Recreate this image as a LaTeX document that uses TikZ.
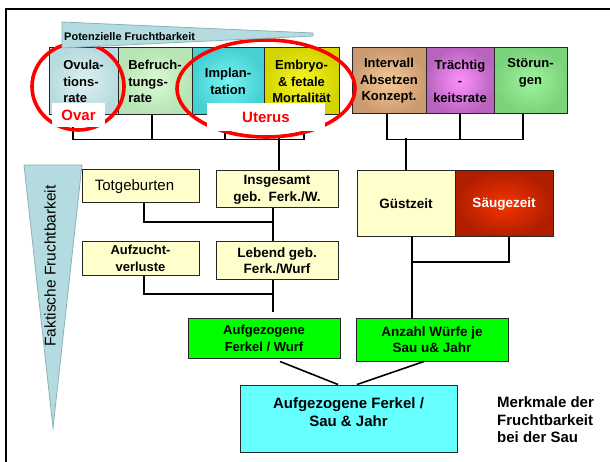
\documentclass[tikz,border=0pt]{standalone}
\usepackage{fontspec}
\setmainfont{Liberation Sans}
\definecolor{wedgeblue}{RGB}{180,220,224}
\definecolor{wedgeedge}{RGB}{140,178,184}
\definecolor{paleyellow}{RGB}{255,255,204}
\definecolor{brightgreen}{RGB}{0,255,0}
\definecolor{lightcyan}{RGB}{102,255,255}
\definecolor{ovuin}{RGB}{222,240,242}\definecolor{ovuout}{RGB}{184,219,224}
\definecolor{befin}{RGB}{218,250,212}\definecolor{befout}{RGB}{182,228,180}
\definecolor{impin}{RGB}{120,244,244}\definecolor{impout}{RGB}{70,208,210}
\definecolor{embin}{RGB}{246,246,40}\definecolor{embout}{RGB}{212,212,0}
\definecolor{intin}{RGB}{246,202,152}\definecolor{intout}{RGB}{204,154,112}
\definecolor{train}{RGB}{255,144,255}\definecolor{traout}{RGB}{184,100,190}
\definecolor{stoin}{RGB}{158,244,158}\definecolor{stoout}{RGB}{122,210,122}
\definecolor{sauin}{RGB}{246,52,0}\definecolor{sauout}{RGB}{176,30,0}
\begin{document}
\begin{tikzpicture}[x=1pt,y=-1pt,
  box/.style={draw=black!85, line width=1pt, inner sep=1pt, align=center,
    font=\bfseries\fontsize{13}{16.5}\selectfont},
  grad/.style 2 args={shade, inner color=#1, outer color=#2},
  wire/.style={line width=1.6pt, black},
  ring/.style={draw=red, line width=3.6pt},
  lbl/.style={fill=white, inner sep=0pt, text=red, font=\bfseries\fontsize{15}{18}\selectfont},
  wedge/.style={fill=wedgeblue, draw=wedgeedge, line width=0.8pt},
]
\useasboundingbox (0,0) rectangle (610,462);
\fill[white] (0,0) rectangle (610,462);

% frame
\draw[line width=2pt] (6,462) -- (6,9) -- (610,9);

% faktische wedge
\draw[wedge] (24,165) -- (82,165) -- (53,428) -- cycle;
\node[rotate=90, font=\fontsize{15.5}{18}\selectfont] (fak) at (50,266) {Faktische Fruchtbarkeit};

% top row boxes
\node[box, grad={ovuin}{ovuout}, minimum width=69pt, minimum height=67pt, align=left] (ovu) at (83.5,81.5) {Ovula-\\tions-\\rate};
\node[box, grad={befin}{befout}, minimum width=74pt, minimum height=67pt, align=left] (bef) at (155,81.5) {Befruch-\\tungs-\\rate};
\node[box, grad={impin}{impout}, minimum width=72pt, minimum height=67pt] (imp) at (228,81.5) {Implan-\\tation};
\node[box, grad={embin}{embout}, minimum width=75pt, minimum height=67pt] (emb) at (301.5,81.5) {Embryo-\\\& fetale\\Mortalität};

\node[box, grad={intin}{intout}, minimum width=74pt, minimum height=66pt] (int) at (389,81) {Intervall\\Absetzen\\Konzept.};
\node[box, grad={train}{traout}, minimum width=68pt, minimum height=66pt] (tra) at (460,81) {Trächtig\\-\\keitsrate};
\node[box, grad={stoin}{stoout}, minimum width=73pt, minimum height=66pt] (sto) at (530.5,81) {Störun-\\gen\\[3pt]};

% middle boxes
\node[box, fill=paleyellow, minimum width=117pt, minimum height=33pt, font=\fontsize{15}{18}\selectfont] (tot) at (140.5,186.5) {Totgeburten\hspace{12pt}};
\node[box, fill=paleyellow, minimum width=122pt, minimum height=37pt, font=\bfseries\fontsize{13.5}{17}\selectfont] (ins) at (277,189.5) {Insgesamt\\geb.~~Ferk./W.};
\node[box, fill=paleyellow, minimum width=117pt, minimum height=33pt] (auf) at (140.5,258.5) {Aufzucht-\\verluste};
\node[box, fill=paleyellow, minimum width=122pt, minimum height=37pt, font=\bfseries\fontsize{13.5}{16}\selectfont] (leb) at (277,260.5) {Lebend geb.\\Ferk./Wurf};

\node[box, fill=paleyellow, minimum width=98pt, minimum height=66pt, font=\bfseries\fontsize{13.5}{16}\selectfont] (gus) at (406,204) {Güstzeit};
\node[box, grad={sauin}{sauout}, text=white, minimum width=98pt, minimum height=66pt, font=\bfseries\fontsize{13.5}{16}\selectfont] (sau) at (504,204) {Säugezeit};

\node[box, fill=brightgreen, minimum width=152pt, minimum height=40pt, font=\bfseries\fontsize{13}{17}\selectfont] (agf) at (264,338) {Aufgezogene\\Ferkel / Wurf};
\node[box, fill=brightgreen, minimum width=152pt, minimum height=43pt, font=\bfseries\fontsize{13.5}{16.5}\selectfont] (anz) at (432,339.5) {Anzahl Würfe je\\Sau u\& Jahr};

\node[box, fill=lightcyan, minimum width=217pt, minimum height=67pt] (fin) at (348.5,418.5) {};
\node[align=center, inner sep=0pt, font=\bfseries\fontsize{15}{18}\selectfont] (fintxt) at ([yshift=6.5pt]fin.center) {Aufgezogene Ferkel /\\Sau \& Jahr};

\node[anchor=west, align=left, inner sep=0pt, font=\bfseries\fontsize{15}{17.5}\selectfont] (merk) at (497,420) {Merkmale der\\Fruchtbarkeit\\bei der Sau};

% connectors top left
\draw[wire] ([xshift=-10.5pt]ovu.south) -- ++(0,24) -| ([xshift=2.5pt]emb.south);
\draw[wire] ([xshift=-3pt]bef.south) -- ++(0,24);
\draw[wire] ([xshift=-3pt]imp.south) -- ++(0,24);
\draw[wire] ([xshift=2pt]ins.north) -- ++(0,-32);
% connectors top right
\draw[wire] ([xshift=-2pt]int.south) -- ++(0,25) -| ([xshift=-7.5pt]sto.south);
\draw[wire] (tra.south) -- ++(0,25);
\draw[wire] (gus.north) -- ++(0,-32);

% left column
\coordinate (jt) at (273,222);
\coordinate (ja) at (273,294);
\coordinate (js) at (412,262);
\draw[wire] ([xshift=3.5pt]tot.south) |- (jt);
\draw[wire] ([xshift=-4pt]ins.south) -- ([xshift=-4pt]leb.north);
\draw[wire] ([xshift=3.5pt]auf.south) |- (ja);
\draw[wire, shorten >=6pt] ([xshift=-4pt]leb.south) -- ([xshift=9pt]agf.north);
% right column
\draw[wire] ([xshift=6pt]gus.south) -- ([xshift=-20pt]anz.north);
\draw[wire] ([xshift=5pt]sau.south) |- (js);
% diagonals
\draw[wire] ([xshift=16pt,yshift=-3pt]agf.south) -- ([xshift=-10.5pt]fin.north);
\draw[wire] ([xshift=-8pt]anz.south) -- ([xshift=8.5pt]fin.north);

% red rings
\draw[ring] (78,86.5) ellipse [x radius=46pt, y radius=43.5pt];
\draw[ring] (266,88.5) ellipse [x radius=89pt, y radius=48.5pt];
\node[lbl, minimum width=53pt, minimum height=24pt] (ovar) at (78.5,115) {Ovar};
\node[lbl, minimum width=118pt, minimum height=28pt] (uterus) at (266,117) {Uterus};

% potenzielle wedge
\draw[wedge] (62,22) -- (313,33) -- (313,36) -- (62,48) -- cycle;
\node[anchor=west, inner sep=0pt, font=\bfseries\fontsize{11}{13}\selectfont] (pot) at (64,37) {Potenzielle Fruchtbarkeit};
\end{tikzpicture}
\end{document}
